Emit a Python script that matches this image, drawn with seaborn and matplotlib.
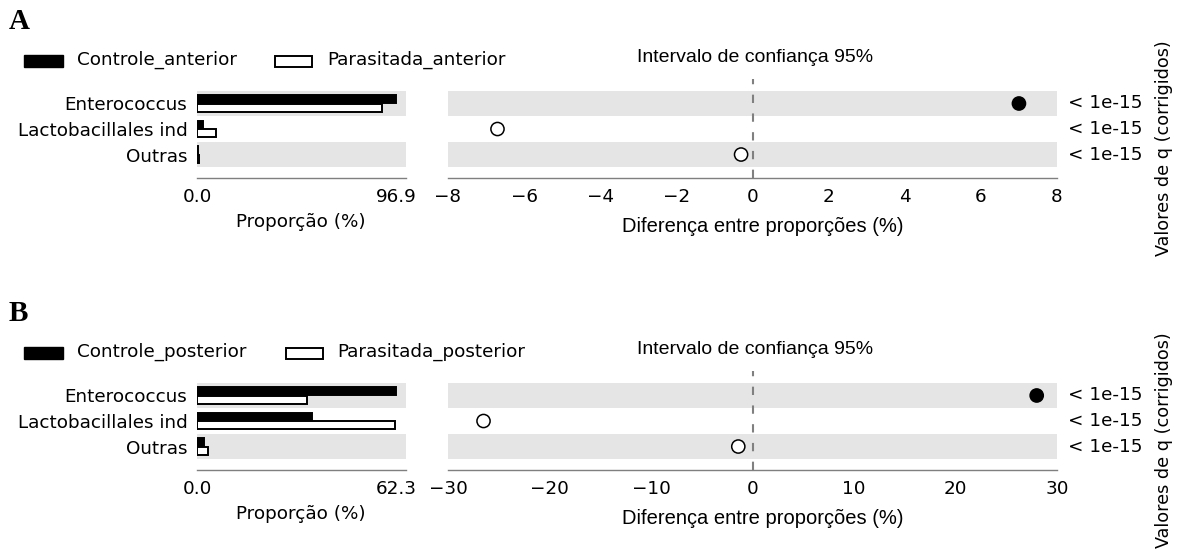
import numpy as np
import pandas as pd
import matplotlib
matplotlib.use("Agg")
import matplotlib.pyplot as plt
import seaborn as sns
from matplotlib.patches import Rectangle
from matplotlib.transforms import blended_transform_factory

# ---- data -------------------------------------------------------------
categorias = ["Enterococcus", "Lactobacillales ind", "Outras"]

grupos_anterior = ["Controle_anterior", "Parasitada_anterior"]
controle_anterior = [96.9, 2.7, 0.5]
parasitada_anterior = [90.2, 9.4, 0.8]
dif_anterior = [7.0, -6.7, -0.3]
ticks_dif_anterior = [-8, -6, -4, -2, 0, 2, 4, 6, 8]

grupos_posterior = ["Controle_posterior", "Parasitada_posterior"]
controle_posterior = [62.3, 36.0, 2.2]
parasitada_posterior = [34.4, 62.0, 3.3]
dif_posterior = [28.0, -26.5, -1.4]
ticks_dif_posterior = [-30, -20, -10, 0, 10, 20, 30]

valores_q = ["< 1e-15", "< 1e-15", "< 1e-15"]

# ---- style ------------------------------------------------------------
sns.set_style("white")
plt.rcParams["font.family"] = ["DejaVu Sans"]
plt.rcParams["axes.unicode_minus"] = True
plt.rcParams["text.color"] = "black"
plt.rcParams["xtick.labelcolor"] = "black"
plt.rcParams["ytick.labelcolor"] = "black"

W, H = 1177, 556
FS = 13.2
BAND = "#e5e5e5"
SPINE = "#7f7f7f"


def fx(x):
    return x / W


def fy(y):
    return 1 - y / H


fig = plt.figure(figsize=(W / 100, H / 100), dpi=100)


def style_axis(ax):
    for side in ("top", "right", "left"):
        ax.spines[side].set_visible(False)
    ax.spines["bottom"].set_color(SPINE)
    ax.spines["bottom"].set_linewidth(1.0)
    ax.tick_params(axis="x", direction="in", length=5, width=1.0,
                   color=SPINE, labelcolor="black", pad=7, labelsize=FS)
    ax.tick_params(axis="y", length=0, pad=7, labelsize=FS,
                   labelcolor="black")
    ax.set_xlabel("")
    ax.set_ylabel("")
    ax.grid(False)


def panel(letra, dy, grupos, prop1, prop2, dif, ticks_dif,
          leg_branco_x, leg_texto2_x):
    top, bottom = 79 + dy, 178 + dy
    ylim = (2.92, -0.96)

    # proportions per group (horizontal paired bars)
    ax1 = fig.add_axes([fx(197), fy(bottom), fx(209), (bottom - top) / H])
    df = pd.DataFrame({
        "categoria": categorias * 2,
        "grupo": [grupos[0]] * 3 + [grupos[1]] * 3,
        "proporcao": list(prop1) + list(prop2),
    })
    for i in (0, 2):
        ax1.axhspan(i - 0.5, i + 0.5, color=BAND, lw=0, zorder=0)
    sns.barplot(data=df, y="categoria", x="proporcao", hue="grupo",
                hue_order=grupos, order=categorias,
                palette=["black", "white"], saturation=1, orient="h",
                width=0.66, gap=0.06, edgecolor="black", linewidth=1.4,
                legend=False, ax=ax1, zorder=2)
    vmax = max(max(prop1), max(prop2))
    ax1.set_xlim(0, vmax * 1.05)
    ax1.set_ylim(*ylim)
    ax1.set_xticks([0, vmax])
    ax1.set_xticklabels([f"{0:.1f}", f"{vmax:.1f}"])
    style_axis(ax1)

    # difference between proportions with confidence interval markers
    ax2 = fig.add_axes([fx(448), fy(bottom), fx(609), (bottom - top) / H])
    for i in (0, 2):
        ax2.axhspan(i - 0.5, i + 0.5, color=BAND, lw=0, zorder=0)
    ax2.axvline(0, color="#808080", lw=1.5, ls=(0, (4, 5)), zorder=1)
    pts = pd.DataFrame({
        "dif": dif,
        "linha": np.arange(len(categorias)),
        "maior": [grupos[0] if d > 0 else grupos[1] for d in dif],
    })
    sns.scatterplot(data=pts, x="dif", y="linha", hue="maior",
                    hue_order=grupos, palette=["black", "white"],
                    s=90, edgecolor="black", linewidth=1.1,
                    legend=False, ax=ax2, zorder=3)
    lim = max(abs(t) for t in ticks_dif)
    ax2.set_xlim(-lim, lim)
    ax2.set_ylim(*ylim)
    ax2.set_xticks(ticks_dif)
    ax2.set_yticks([])
    style_axis(ax2)

    trans = blended_transform_factory(ax2.transAxes, ax2.transData)
    for i, q in enumerate(valores_q):
        ax2.text(1 + 11 / 609, i, q, transform=trans, ha="left",
                 va="center", fontsize=FS, color="black")

    # titles and axis labels
    fig.text(fx(755), fy(58 + dy), "Intervalo de confiança 95%",
             ha="center", va="center", fontsize=14,
             family=["Liberation Sans", "DejaVu Sans"])
    fig.text(fx(763), fy(227 + dy), "Diferença entre proporções (%)",
             ha="center", va="center", fontsize=14.5,
             family=["Liberation Sans", "DejaVu Sans"])
    fig.text(fx(301), fy(222 + dy), "Proporção (%)", ha="center",
             va="center", fontsize=FS)
    fig.text(fx(1164), fy(148 + dy), "Valores de q (corrigidos)",
             rotation=90, ha="center", va="center", fontsize=12.7)

    # panel letter
    fig.text(fx(9), fy(29 + dy), letra, ha="left", va="baseline",
             fontsize=21, fontweight="bold",
             family=["Liberation Serif", "DejaVu Serif"])

    # legend
    fig.add_artist(Rectangle((fx(24), fy(67 + dy)), fx(39), 12 / H,
                             transform=fig.transFigure, facecolor="black",
                             edgecolor="black", lw=1))
    fig.text(fx(77), fy(60 + dy), grupos[0], ha="left", va="center",
             fontsize=FS)
    fig.add_artist(Rectangle((fx(leg_branco_x), fy(67 + dy)), fx(37),
                             11 / H, transform=fig.transFigure,
                             facecolor="white", edgecolor="black", lw=1.4))
    fig.text(fx(leg_texto2_x), fy(60 + dy), grupos[1], ha="left",
             va="center", fontsize=FS)


panel("A", 0, grupos_anterior, controle_anterior, parasitada_anterior,
      dif_anterior, ticks_dif_anterior, 275, 327)
panel("B", 292, grupos_posterior, controle_posterior, parasitada_posterior,
      dif_posterior, ticks_dif_posterior, 286, 337)

fig.savefig("out.png", dpi=100, facecolor="white")
